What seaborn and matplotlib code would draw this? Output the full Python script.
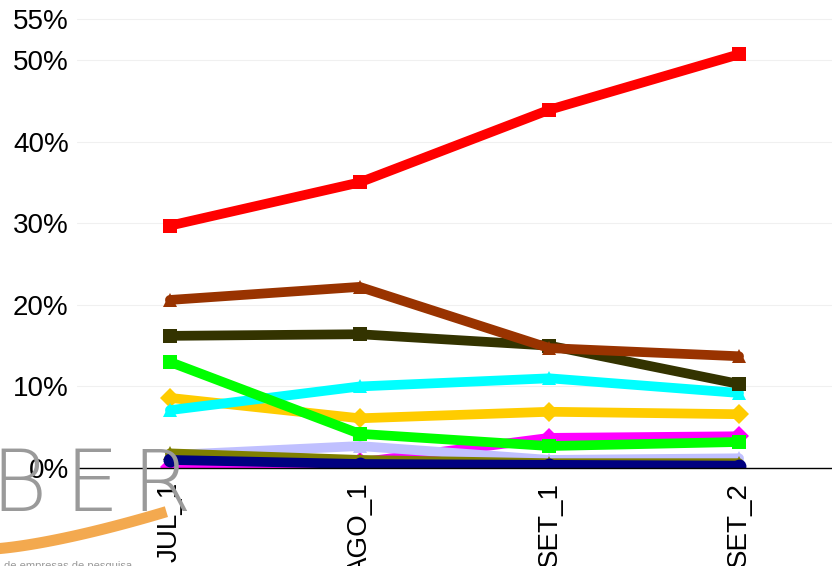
import pandas as pd
import numpy as np
import matplotlib.pyplot as plt
import seaborn as sns
from matplotlib.ticker import FuncFormatter

# periods on the x axis
periods = ['JUL_1', 'AGO_1', 'SET_1', 'SET_2']

# share per series, in %
s_magenta = [0.1, 0.7, 3.7, 3.9]
s_lavender = [1.6, 2.7, 1.0, 1.2]
s_olive = [1.8, 1.0, 0.6, 0.6]
s_navy = [1.0, 0.5, 0.4, 0.3]
s_yellow = [8.6, 6.1, 6.9, 6.6]
s_cyan = [7.1, 10.0, 11.0, 9.2]
s_green = [13.0, 4.2, 2.7, 3.2]
s_darkolive = [16.2, 16.4, 15.0, 10.3]
s_brown = [20.6, 22.2, 14.7, 13.7]
s_red = [29.7, 35.0, 43.9, 50.7]

series = {'S10': s_magenta, 'S9': s_lavender, 'S8': s_olive, 'S7': s_navy,
          'S6': s_yellow, 'S5': s_cyan, 'S4': s_green, 'S3': s_darkolive,
          'S2': s_brown, 'S1': s_red}
colors = {'S10': '#ff00ff', 'S9': '#c0c0ff', 'S8': '#808000', 'S7': '#000080',
          'S6': '#ffcc00', 'S5': '#00ffff', 'S4': '#00ff00', 'S3': '#333300',
          'S2': '#993300', 'S1': '#ff0000'}
markers = {'S10': 'D', 'S9': '^', 'S8': '^', 'S7': 'o',
           'S6': 'D', 'S5': '^', 'S4': 's', 'S3': 's',
           'S2': '^', 'S1': 's'}

rows = []
for name, vals in series.items():
    for p, v in zip(periods, vals):
        rows.append({'periodo': p, 'valor': v, 'serie': name})
df = pd.DataFrame(rows)
df['x'] = df['periodo'].map({p: i for i, p in enumerate(periods)})

sns.set_style('white')
plt.rcParams['font.family'] = ['Liberation Sans', 'DejaVu Sans']

fig = plt.figure(figsize=(8.32, 5.66), dpi=100)

# logo remnant behind the chart (partly hidden)
for xf, letter in [(-0.012, 'B'), (0.078, 'E'), (0.158, 'R')]:
    fig.text(xf, 0.098, letter, fontsize=62, color='#9a9a9a',
             family='DejaVu Sans', fontweight='light', zorder=0)
t = np.linspace(0, 1, 60)
fig.add_artist(plt.Line2D(-0.01 + 0.21 * t, 0.03 + 0.066 * t ** 1.4,
                          color='#f29a30', lw=8, alpha=0.85, zorder=0,
                          solid_capstyle='butt'))
fig.text(0.005, -0.006, 'de empresas de pesquisa', fontsize=8,
         color='#999999', zorder=0)

ax = fig.add_axes([0.0925, 0.173, 0.9075, 0.827])
ax.patch.set_alpha(0)
for name in series:
    sub = df[df['serie'] == name]
    sns.lineplot(data=sub, x='x', y='valor', ax=ax, color=colors[name],
                 marker=markers[name], markersize=10, markeredgewidth=0,
                 lw=7, legend=False)

ax.set_xlim(-0.49, 3.49)
ax.set_ylim(0, 57.35)
ax.set_xticks(range(len(periods)))
ax.set_xticklabels(periods, rotation=90, fontsize=20, color='black')
ax.set_yticks([0, 10, 20, 30, 40, 50, 55])
ax.yaxis.set_major_formatter(FuncFormatter(lambda v, pos: f'{v:.0f}%'))
ax.tick_params(axis='y', labelsize=20, labelcolor='black', length=0, pad=6)
ax.tick_params(axis='x', length=0, pad=10)
ax.grid(axis='y', color='#f0f0f0', lw=0.8)
ax.set_xlabel('')
ax.set_ylabel('')
for side in ['top', 'right', 'left']:
    ax.spines[side].set_visible(False)
ax.spines['bottom'].set_color('black')
ax.spines['bottom'].set_linewidth(1)

fig.savefig('out.png', dpi=100)
